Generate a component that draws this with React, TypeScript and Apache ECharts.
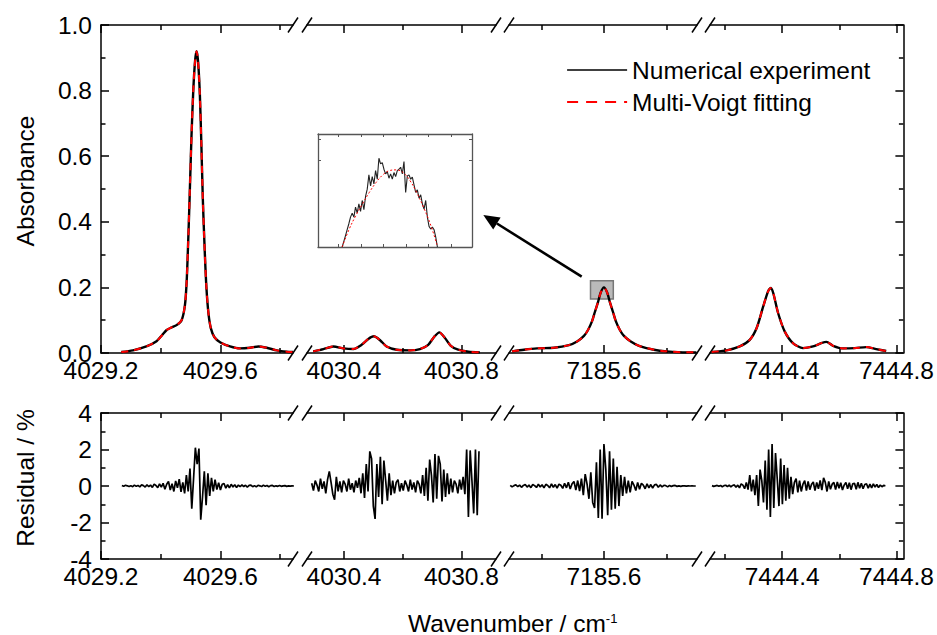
import React, { useEffect, useRef } from 'react';
import * as echarts from 'echarts';

const FONT = '"Liberation Sans", Arial, Helvetica, sans-serif';

// ---- axis segments (broken wavenumber axis) ----
const segMin = [4029.2, 4030.274, 7185.296, 7444.148];
const segMax = [4029.843, 4030.918, 7185.898, 7444.824];
const segMajor = [[4029.2, 4029.6], [4030.4, 4030.8], [7185.6], [7444.4, 7444.8]];
const segMinor = [[4029.4, 4029.8], [4030.6], [7185.4, 7185.8], [7444.2, 7444.6]];

// ---- absorbance spectra [wavenumber, absorbance] ----
const absSeg1 = [
  [4029.268, 0.003], [4029.307, 0.008], [4029.352, 0.02], [4029.386, 0.036], [4029.405, 0.055],
  [4029.42, 0.07], [4029.436, 0.078], [4029.453, 0.085], [4029.47, 0.1], [4029.481, 0.145],
  [4029.487, 0.22], [4029.492, 0.34], [4029.497, 0.48], [4029.503, 0.66], [4029.509, 0.8],
  [4029.515, 0.89], [4029.52, 0.92], [4029.525, 0.89], [4029.531, 0.79], [4029.536, 0.64],
  [4029.541, 0.47], [4029.547, 0.32], [4029.553, 0.2], [4029.56, 0.12], [4029.568, 0.075],
  [4029.58, 0.048], [4029.6, 0.032], [4029.632, 0.02], [4029.665, 0.014], [4029.699, 0.016],
  [4029.727, 0.02], [4029.755, 0.016], [4029.789, 0.008], [4029.822, 0.004], [4029.843, 0.003],
];
const absSeg2 = [
  [4030.295, 0.005], [4030.33, 0.012], [4030.364, 0.02], [4030.398, 0.014], [4030.432, 0.012],
  [4030.46, 0.025], [4030.483, 0.043], [4030.502, 0.051], [4030.523, 0.039], [4030.545, 0.02],
  [4030.58, 0.01], [4030.625, 0.008], [4030.659, 0.012], [4030.687, 0.025], [4030.707, 0.049],
  [4030.725, 0.063], [4030.744, 0.046], [4030.764, 0.022], [4030.789, 0.01], [4030.824, 0.004],
  [4030.863, 0.002],
];
const absSeg3 = [
  [7185.306, 0.005], [7185.344, 0.01], [7185.386, 0.014], [7185.44, 0.016], [7185.488, 0.024],
  [7185.514, 0.035], [7185.536, 0.052], [7185.549, 0.07], [7185.562, 0.097], [7185.571, 0.125],
  [7185.581, 0.155], [7185.59, 0.185], [7185.6, 0.2], [7185.61, 0.185], [7185.619, 0.155],
  [7185.629, 0.125], [7185.638, 0.097], [7185.651, 0.07], [7185.664, 0.052], [7185.686, 0.035],
  [7185.712, 0.022], [7185.76, 0.01], [7185.802, 0.005], [7185.866, 0.002], [7185.896, 0.002],
];
const absSeg4 = [
  [7444.154, 0.003], [7444.206, 0.008], [7444.252, 0.02], [7444.287, 0.04], [7444.311, 0.076],
  [7444.334, 0.142], [7444.351, 0.188], [7444.36, 0.198], [7444.369, 0.183], [7444.386, 0.122],
  [7444.409, 0.066], [7444.438, 0.03], [7444.473, 0.015], [7444.508, 0.02], [7444.537, 0.03],
  [7444.555, 0.034], [7444.578, 0.022], [7444.613, 0.014], [7444.654, 0.015], [7444.694, 0.018],
  [7444.729, 0.012], [7444.764, 0.006],
];

// ---- residuals (%), evenly sampled from start with step ----
const resStart = [4029.27, 4030.29, 7185.3, 7444.155];
const resStep = 0.006;
const res1 = [
  0.03, -0.02, 0.04, 0.01, -0.03, 0.02, -0.04, 0.05, -0.02, 0.03, -0.05, 0.06, 0.02, -0.06, 0.07, -0.04, 0.05, -0.08, 0.1, 0.03, -0.09, 0.12,
  -0.06, 0.15, -0.18, 0.1, 0.25, -0.22, 0.12, -0.3, 0.28, -0.1, 0.38, -0.32, 0.2, -0.4,
  0.6, -0.3, 0.95, -1.25, 0.4, 2.1, 1.2, 2.05, -1.85, -0.6, 0.8, -1.05, 0.7, -0.55, 0.45, -0.3, 0.35, -0.2, 0.18, -0.22, 0.1, 0.14, -0.12, 0.08, -0.1, 0.09, -0.05, 0.07, -0.08, 0.05, -0.04,
  0.06, -0.03, 0.04, -0.06, 0.03, 0.05, -0.04, 0.02, -0.05, 0.04, 0.01, -0.03, 0.05, -0.02, 0.03, -0.04, 0.02, 0.03, -0.03, 0.01, -0.02, 0.03, -0.02, 0.01, 0.02, -0.02, 0.01, -0.01, 0.01, 0,
];
const res2 = [
  0.15, -0.25, 0.3, 0.05, -0.3, 0.4, -0.15, 0.25, -0.4, 0.35, 0.8, 0.2, -0.45, -0.75, 0.5, -0.3, 0.25,
  -0.35, 0.3, 0.1, -0.3, 0.4, -0.2, 0.15, -0.35, 0.3, -0.1, 0.45, -0.4,
  0.7, -0.65, 1.2, -0.3, 1.9, 1.5, -1.1, -1.8, 1.2, -0.6, 1.6, -1.0, 1.4, 0.3, -0.8, 0.7, -0.5,
  0.3, -0.4, 0.2, 0.35, -0.3, 0.15, -0.25, 0.3, 0.05, -0.3, 0.35, -0.2, 0.2, -0.35, 0.3, 0.1, -0.4,
  0.6, -0.55, 1.0, -0.8, 1.45, 0.6, -0.9, 1.75, -0.7, 1.65, 1.2, -0.85, 0.9, -0.6, 0.7, -0.45, 0.4,
  -0.35, 0.3, 0.1, -0.4, 0.35, -0.2, 0.5, -0.45,
  2.0, -1.7, 1.95, 0.3, -1.5, 2.0, -1.6, 1.9,
];
const res3 = [
  0.04, -0.05, 0.02, 0.07, -0.04, 0.05, -0.07, 0.03, 0.08, -0.06, 0.05, -0.09, 0.08, 0.02, -0.08, 0.1, -0.05, 0.07, -0.1, 0.09,
  0.03, -0.1, 0.11, -0.07, 0.08, -0.12, 0.1, 0.04, -0.13, 0.15, -0.1, 0.2, -0.16, 0.12, 0.25, -0.22, 0.3, -0.28,
  0.4, -0.5, 0.65, 0.1, -0.7, 0.75, -0.9, -1.2, 1.3, -1.75, 2.0, -1.8, 2.3, 0.9, -1.6, 1.9, -1.3, 1.5, -1.25, 1.05, -1.1, 0.6, -0.55, 0.5, -0.4,
  0.3, -0.35, 0.25, 0.05, -0.25, 0.2, -0.18, 0.15, 0.05, -0.15, 0.12, -0.1, 0.08, -0.11, 0.06, 0.09, -0.07, 0.06, -0.05, 0.04,
  0.02, -0.05, 0.03, -0.03, 0.02, 0.03, -0.02, 0.01, -0.02, 0.01, 0.01, -0.01, 0.01, 0, 0.01, 0, 0,
];
const res4 = [
  0.02, -0.02, 0.01, 0.03, -0.02, 0.03, -0.04, 0.02, 0.04, -0.03, 0.05, -0.05, 0.03, 0.06, -0.07, 0.05,
  -0.1, 0.12, 0.05, -0.15, 0.2, -0.2, 0.6, -0.3, 0.35,
  -0.5, 0.6, -1.1, 0.9, 0.3, -0.9, 1.4, -1.3, 2.0, -1.7, 2.3, -1.2, 1.8, 0.4, -1.1, 1.5, -1.0, 1.15, -0.8, 1.0, -0.7,
  0.5, -0.45, 0.2, 0.4, -0.35, 0.3, -0.3, 0.1, 0.3, -0.25,
  0.25, -0.2, 0.1, 0.22, -0.25, 0.2, -0.15, 0.3, -0.22, 0.45, 0.2, -0.3, 0.25, -0.18, 0.1, 0.2, -0.2, 0.22, -0.12, 0.18,
  -0.22, 0.05, 0.2, -0.15, 0.18, -0.2, 0.12, 0.15, -0.18, 0.2, -0.12, 0.15, -0.15, 0.08, 0.12, -0.12, 0.1, -0.1, 0.12, -0.06,
  0.08, -0.08, 0.05, -0.04, 0.03, 0.01,
];

// ---- inset: zoom of the 7185.6 peak ----
const insetMin = 7185.56;
const insetMax = 7185.6282;
const insetYMin = 0.187;
const insetYMax = 0.2006;
const insetXTicks = [7185.569, 7185.579, 7185.589, 7185.599, 7185.609, 7185.619];
const insetYTicks = [0.1975, 0.2];
const insetStart = 7185.5707;
const insetExpStep = 0.00074;
const insetExp = [
  0.187, 0.18768, 0.18836, 0.18908, 0.1898, 0.1906, 0.19108, 0.1906, 0.1918, 0.19108,
  0.1922, 0.19128, 0.1926, 0.19148, 0.19308, 0.19396, 0.19568, 0.19436, 0.19548, 0.1946,
  0.1962, 0.19516, 0.19768, 0.197, 0.19716, 0.19636, 0.1958, 0.19608, 0.19528, 0.1958,
  0.19516, 0.19596, 0.19548, 0.1962, 0.19636, 0.1966, 0.1958, 0.19728, 0.19356, 0.19556,
  0.19568, 0.19516, 0.1954, 0.19448, 0.19356, 0.19388, 0.19288, 0.19328, 0.1922, 0.19156,
  0.1926, 0.1906, 0.18948, 0.18916, 0.1894, 0.18908, 0.1882, 0.187,
];
const insetFitStep = 0.003;
const insetFit = [
  0.187, 0.18908, 0.19076, 0.1922, 0.19356, 0.19476, 0.19568, 0.1962, 0.19628, 0.19596,
  0.195, 0.19356, 0.1918, 0.1898, 0.18728,
];
const zoomBox = [[7185.557, 0.22], [7185.63, 0.165]];

const legendNames = ['Numerical experiment', 'Multi-Voigt fitting'];

// ---- layout (pixels) ----
const segLeft = [101, 307, 509, 710];
const segWidth = [192, 189, 188, 194];
const panelTop = [25, 413];
const panelHeight = [328, 146];

const sampled = (start: number, step: number, vals: number[]) =>
  vals.map((v, i) => [+(start + i * step).toFixed(5), v]);

const BLACK = '#000';

function buildOption() {
  const grid: any[] = [];
  const xAxis: any[] = [];
  const yAxis: any[] = [];
  const series: any[] = [];

  for (let p = 0; p < 2; p++) {
    for (let s = 0; s < 4; s++) {
      const g = p * 4 + s;
      grid.push({ left: segLeft[s], top: panelTop[p], width: segWidth[s], height: panelHeight[p], containLabel: false });
      const common = {
        type: 'value', gridIndex: g, min: segMin[s], max: segMax[s], splitLine: { show: false },
      };
      const tickStyle = { color: BLACK, width: 1.5 };
      xAxis.push({
        ...common, position: 'bottom',
        axisLine: { show: true, onZero: false, lineStyle: { color: BLACK, width: 1.5 } },
        axisTick: { show: true, inside: true, length: 8, customValues: segMajor[s], lineStyle: tickStyle },
        axisLabel: {
          show: true, customValues: segMajor[s], formatter: (v: number) => v.toFixed(1),
          fontSize: 24.5, color: BLACK, fontFamily: FONT, margin: 5,
        },
      });
      xAxis.push({
        ...common, position: 'bottom',
        axisLine: { show: false, onZero: false },
        axisTick: { show: true, inside: true, length: 5, customValues: segMinor[s], lineStyle: tickStyle },
        axisLabel: { show: false },
      });
      xAxis.push({
        ...common, position: 'top',
        axisLine: { show: true, onZero: false, lineStyle: { color: BLACK, width: 1.5 } },
        axisTick: { show: true, inside: true, length: 8, customValues: segMajor[s], lineStyle: tickStyle },
        axisLabel: { show: false },
      });
      xAxis.push({
        ...common, position: 'top',
        axisLine: { show: false, onZero: false },
        axisTick: { show: true, inside: true, length: 5, customValues: segMinor[s], lineStyle: tickStyle },
        axisLabel: { show: false },
      });

      const yRange = p === 0 ? { min: 0, max: 1, interval: 0.2 } : { min: -4, max: 4, interval: 2 };
      const visible = s === 0 || s === 3;
      yAxis.push({
        type: 'value', gridIndex: g, ...yRange,
        show: visible,
        position: s === 3 ? 'right' : 'left',
        splitLine: { show: false },
        axisLine: { show: true, onZero: false, lineStyle: { color: BLACK, width: 1.5 } },
        axisTick: { show: true, inside: true, length: 8, lineStyle: tickStyle },
        minorTick: { show: true, splitNumber: 2, length: 4.5, lineStyle: { color: BLACK, width: 1.5 } },
        axisLabel: {
          show: s === 0, fontSize: 24.5, color: BLACK, fontFamily: FONT, margin: 9,
          formatter: (v: number) => (p === 0 ? v.toFixed(1) : String(v)),
        },
        name: s === 0 ? (p === 0 ? 'Absorbance' : 'Residual / %') : '',
        nameLocation: 'middle',
        nameGap: 63,
        nameTextStyle: { fontSize: 24.5, color: BLACK, fontFamily: FONT, padding: [0, 0, 0, 16] },
      });
    }
  }

  const absSegs = [absSeg1, absSeg2, absSeg3, absSeg4];
  absSegs.forEach((d, s) => {
    series.push({
      name: legendNames[0], type: 'line', xAxisIndex: s * 4, yAxisIndex: s, data: d,
      symbol: 'none', showSymbol: false, smooth: 0.25,
      lineStyle: { color: BLACK, width: 2.4 }, itemStyle: { color: BLACK }, z: 2,
      markArea: s === 2 ? {
        silent: true,
        itemStyle: { color: 'rgba(130,130,130,0.55)', borderColor: '#777', borderWidth: 1.5 },
        data: [[{ coord: zoomBox[0] }, { coord: zoomBox[1] }]],
      } : undefined,
    });
    series.push({
      name: legendNames[1], type: 'line', xAxisIndex: s * 4, yAxisIndex: s, data: d,
      symbol: 'none', showSymbol: false, smooth: 0.25,
      lineStyle: { color: '#ff0000', width: 2, type: [7, 6] }, itemStyle: { color: '#ff0000' }, z: 3,
    });
  });

  const resSegs = [res1, res2, res3, res4];
  resSegs.forEach((vals, s) => {
    series.push({
      name: 'Residual', type: 'line', xAxisIndex: (4 + s) * 4, yAxisIndex: 4 + s,
      data: sampled(resStart[s], resStep, vals),
      symbol: 'none', showSymbol: false,
      lineStyle: { color: BLACK, width: 1.7 }, itemStyle: { color: BLACK },
    });
  });

  // inset grid
  grid.push({ left: 318, top: 134, width: 154, height: 113, containLabel: false });
  const ig = 8;
  const insetLine = { color: '#555', width: 1.3 };
  const insetTick = { color: '#555', width: 1 };
  xAxis.push({
    type: 'value', gridIndex: ig, min: insetMin, max: insetMax, position: 'bottom', splitLine: { show: false },
    axisLine: { show: true, onZero: false, lineStyle: insetLine },
    axisTick: { show: true, inside: true, length: 3, customValues: insetXTicks, lineStyle: insetTick },
    axisLabel: { show: false },
  });
  xAxis.push({
    type: 'value', gridIndex: ig, min: insetMin, max: insetMax, position: 'top', splitLine: { show: false },
    axisLine: { show: true, onZero: false, lineStyle: insetLine },
    axisTick: { show: true, inside: true, length: 3, customValues: insetXTicks, lineStyle: insetTick },
    axisLabel: { show: false },
  });
  yAxis.push({
    type: 'value', gridIndex: ig, min: insetYMin, max: insetYMax, position: 'left', splitLine: { show: false },
    axisLine: { show: true, onZero: false, lineStyle: insetLine },
    axisTick: { show: true, inside: true, length: 3, customValues: insetYTicks, lineStyle: insetTick },
    axisLabel: { show: false },
  });
  yAxis.push({
    type: 'value', gridIndex: ig, min: insetYMin, max: insetYMax, position: 'right', splitLine: { show: false },
    axisLine: { show: true, onZero: false, lineStyle: insetLine },
    axisTick: { show: true, inside: true, length: 3, customValues: insetYTicks, lineStyle: insetTick },
    axisLabel: { show: false },
  });
  series.push({
    name: 'Inset experiment', type: 'line', xAxisIndex: 32, yAxisIndex: 8,
    data: sampled(insetStart, insetExpStep, insetExp),
    symbol: 'none', showSymbol: false, lineStyle: { color: '#222', width: 1.1 }, z: 2,
  });
  series.push({
    name: 'Inset fit', type: 'line', xAxisIndex: 32, yAxisIndex: 8,
    data: sampled(insetStart, insetFitStep, insetFit),
    symbol: 'none', showSymbol: false, smooth: 0.4,
    lineStyle: { color: '#ff0000', width: 1, type: [2, 2] }, z: 3,
  });

  // break marks and annotations
  const graphic: any[] = [];
  const axisYs = [panelTop[0], panelTop[0] + panelHeight[0], panelTop[1], panelTop[1] + panelHeight[1]];
  const breakXs: number[] = [];
  for (let s = 0; s < 3; s++) {
    breakXs.push(segLeft[s] + segWidth[s]);
    breakXs.push(segLeft[s + 1]);
  }
  axisYs.forEach((y) => {
    breakXs.forEach((x) => {
      graphic.push({
        type: 'line', silent: true,
        shape: { x1: x - 5, y1: y + 7.5, x2: x + 5, y2: y - 7.5 },
        style: { stroke: BLACK, lineWidth: 1.5 },
      });
    });
  });
  graphic.push({
    type: 'line', silent: true,
    shape: { x1: 581.7, y1: 276.7, x2: 496.9, y2: 223.5 },
    style: { stroke: BLACK, lineWidth: 2.6 },
  });
  graphic.push({
    type: 'polygon', silent: true,
    shape: { points: [[483.3, 215], [500.6, 217.6], [493.2, 229.4]] },
    style: { fill: BLACK },
  });
  graphic.push({
    type: 'text', silent: true, x: 408, y: 612,
    style: {
      text: '{a|Wavenumber / cm}{b|-1}',
      fill: BLACK,
      rich: {
        a: { fontSize: 24.5, fontFamily: FONT, fill: BLACK, lineHeight: 22 },
        b: { fontSize: 13, fontFamily: FONT, fill: BLACK, verticalAlign: 'top', lineHeight: 14 },
      },
    },
  });

  return {
    animation: false,
    backgroundColor: '#fff',
    grid, xAxis, yAxis, series, graphic,
    legend: {
      show: true,
      data: [
        { name: legendNames[0], lineStyle: { color: BLACK, width: 1.6 } },
        { name: legendNames[1], lineStyle: { color: '#ff0000', width: 2.2, type: [11, 8] } },
      ],
      orient: 'vertical', left: 566, top: 57,
      itemWidth: 60, itemHeight: 14, itemGap: 6, padding: 0, selectedMode: false,
      itemStyle: { opacity: 0 },
      textStyle: { fontSize: 24.5, color: BLACK, fontFamily: FONT, lineHeight: 26 },
    },
  };
}

export default function App() {
  const ref = useRef<HTMLDivElement>(null);
  useEffect(() => {
    if (!ref.current) return;
    const chart = echarts.init(ref.current, undefined, { renderer: 'svg' });
    chart.setOption(buildOption() as any);
    return () => chart.dispose();
  }, []);
  return (
    <div
      ref={ref}
      style={{ position: 'fixed', left: 0, top: 0, width: 937, height: 635, background: '#fff' }}
    />
  );
}
